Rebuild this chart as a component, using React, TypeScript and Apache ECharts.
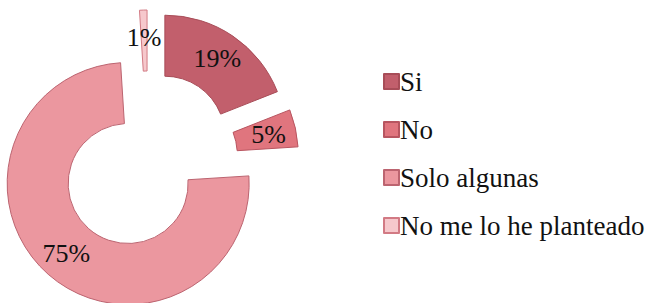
import React, { useEffect, useRef } from "react";
import * as echarts from "echarts";

const categories = ["Si", "No", "Solo algunas", "No me lo he planteado"];
const values = [19, 5, 75, 1];
const colors = ["#C25F6C", "#E0757E", "#EB979F", "#F6C8CC"];
const borders = ["#A84D58", "#B85560", "#BC6470", "#D27A84"];
const FONT = "'Liberation Serif', 'Times New Roman', serif";

export default function App() {
  const ref = useRef<HTMLDivElement>(null);
  useEffect(() => {
    const chart = echarts.init(ref.current!, null, { renderer: "svg" });
    chart.setOption({
      animation: false,
      textStyle: { fontFamily: FONT },
      legend: {
        orient: "vertical",
        left: 378,
        top: 63,
        itemWidth: 15,
        itemHeight: 15,
        itemGap: 21,
        icon: "rect",
        selectedMode: false,
        textStyle: { fontFamily: FONT, fontSize: 27, color: "#111", padding: [0, 0, 0, -4] },
        data: categories,
      },
      series: [
        {
          type: "pie",
          center: [148, 161],
          radius: [60, 121],
          startAngle: 90,
          clockwise: true,
          selectedMode: "multiple",
          selectedOffset: 30,
          avoidLabelOverlap: false,
          silent: true,
          label: {
            show: true,
            position: "inside",
            fontFamily: FONT,
            fontSize: 26,
            color: "#111",
            formatter: (p: any) => p.value + "%",
          },
          labelLine: { show: false },
          data: categories.map((c, i) => ({
            name: c,
            value: values[i],
            selected: true,
            itemStyle: { color: colors[i], borderColor: borders[i], borderWidth: 1 },
          })),
        },
      ],
    });
    return () => chart.dispose();
  }, []);
  return (
    <div
      ref={ref}
      style={{ position: "fixed", left: 0, top: 0, width: 656, height: 303, background: "#fff" }}
    />
  );
}
